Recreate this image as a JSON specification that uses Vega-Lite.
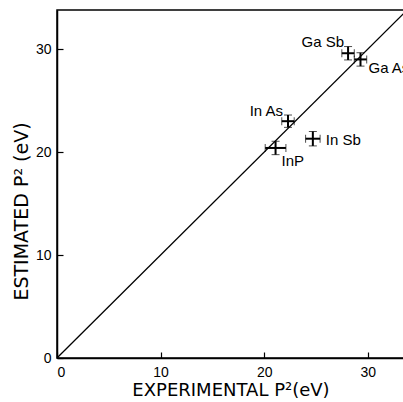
{
  "$schema": "https://vega.github.io/schema/vega-lite/v6.json",
  "autosize": "none",
  "width": 347,
  "height": 348,
  "padding": {"left": 57, "top": 10, "right": 0, "bottom": 44},
  "background": "white",
  "config": {
    "view": {"stroke": "black", "strokeWidth": 1.5},
    "font": "Liberation Sans",
    "axis": {
      "grid": false,
      "domainColor": "black",
      "domainWidth": 1.5,
      "tickColor": "black",
      "tickSize": -6,
      "tickWidth": 1.2,
      "labelFont": "Liberation Sans",
      "labelFontSize": 14,
      "labelColor": "black",
      "titleFont": "DejaVu Sans",
      "titleFontSize": 19,
      "titleFontWeight": "normal",
      "titleColor": "black"
    }
  },
  "datasets": {
    "points": [
      {"name": "GaSb", "label": "Ga Sb", "exp": 28.1, "est": 29.6, "xerr": 0.6, "yerr": 0.65},
      {"name": "GaAs", "label": "Ga As", "exp": 29.3, "est": 29.0, "xerr": 0.6, "yerr": 0.65},
      {"name": "InAs", "label": "In As", "exp": 22.3, "est": 23.0, "xerr": 0.6, "yerr": 0.6},
      {"name": "InSb", "label": "In Sb", "exp": 24.7, "est": 21.3, "xerr": 0.7, "yerr": 0.7},
      {"name": "InP", "label": "InP", "exp": 21.1, "est": 20.4, "xerr": 1.0, "yerr": 0.65}
    ],
    "diag": [
      {"exp": 0, "est": 0},
      {"exp": 33.6, "est": 33.6}
    ]
  },
  "layer": [
    {
      "data": {"name": "diag"},
      "mark": {"type": "line", "color": "black", "strokeWidth": 1.3, "clip": true},
      "encoding": {
        "x": {"field": "exp", "type": "quantitative", "title": "EXPERIMENTAL P²(eV)", "scale": {"domain": [0, 33.5], "nice": false}, "axis": {"values": [0, 10, 20, 30], "titlePadding": 2, "labelPadding": 13, "titleFontSize": 18}},
        "y": {"field": "est", "type": "quantitative", "title": "ESTIMATED    P² (eV)", "scale": {"domain": [0, 33.8], "nice": false}, "axis": {"values": [0, 10, 20, 30], "titlePadding": 4, "labelPadding": 12, "titleY": 201}}
      }
    },
    {
      "data": {"name": "points"},
      "transform": [
        {"calculate": "datum.exp - datum.xerr", "as": "xlo"},
        {"calculate": "datum.exp + datum.xerr", "as": "xhi"}
      ],
      "mark": {"type": "errorbar", "ticks": {"size": 8, "color": "black", "strokeWidth": 1.5}, "rule": {"color": "black", "strokeWidth": 2}},
      "encoding": {
        "x": {"field": "xlo", "type": "quantitative", "title": "EXPERIMENTAL P²(eV)"},
        "x2": {"field": "xhi"},
        "y": {"field": "est", "type": "quantitative", "title": "ESTIMATED    P² (eV)"}
      }
    },
    {
      "data": {"name": "points"},
      "transform": [
        {"calculate": "datum.est - datum.yerr", "as": "ylo"},
        {"calculate": "datum.est + datum.yerr", "as": "yhi"}
      ],
      "mark": {"type": "errorbar", "ticks": {"size": 8, "color": "black", "strokeWidth": 1.5}, "rule": {"color": "black", "strokeWidth": 2}},
      "encoding": {
        "y": {"field": "ylo", "type": "quantitative", "title": "ESTIMATED    P² (eV)"},
        "y2": {"field": "yhi"},
        "x": {"field": "exp", "type": "quantitative", "title": "EXPERIMENTAL P²(eV)"}
      }
    },
    {
      "data": {"name": "points"},
      "transform": [{"filter": "datum.name === 'GaSb'"}],
      "mark": {"type": "text", "align": "right", "baseline": "middle", "dx": -4, "dy": -11, "fontSize": 15, "font": "Liberation Sans", "color": "black"},
      "encoding": {"x": {"field": "exp", "type": "quantitative", "title": "EXPERIMENTAL P²(eV)"}, "y": {"field": "est", "type": "quantitative", "title": "ESTIMATED    P² (eV)"}, "text": {"field": "label"}}
    },
    {
      "data": {"name": "points"},
      "transform": [{"filter": "datum.name === 'GaAs'"}],
      "mark": {"type": "text", "align": "left", "baseline": "middle", "dx": 8, "dy": 9, "fontSize": 15, "font": "Liberation Sans", "color": "black"},
      "encoding": {"x": {"field": "exp", "type": "quantitative", "title": "EXPERIMENTAL P²(eV)"}, "y": {"field": "est", "type": "quantitative", "title": "ESTIMATED    P² (eV)"}, "text": {"field": "label"}}
    },
    {
      "data": {"name": "points"},
      "transform": [{"filter": "datum.name === 'InAs'"}],
      "mark": {"type": "text", "align": "right", "baseline": "middle", "dx": -5, "dy": -10, "fontSize": 15, "font": "Liberation Sans", "color": "black"},
      "encoding": {"x": {"field": "exp", "type": "quantitative", "title": "EXPERIMENTAL P²(eV)"}, "y": {"field": "est", "type": "quantitative", "title": "ESTIMATED    P² (eV)"}, "text": {"field": "label"}}
    },
    {
      "data": {"name": "points"},
      "transform": [{"filter": "datum.name === 'InSb'"}],
      "mark": {"type": "text", "align": "left", "baseline": "middle", "dx": 13, "dy": 1, "fontSize": 15, "font": "Liberation Sans", "color": "black"},
      "encoding": {"x": {"field": "exp", "type": "quantitative", "title": "EXPERIMENTAL P²(eV)"}, "y": {"field": "est", "type": "quantitative", "title": "ESTIMATED    P² (eV)"}, "text": {"field": "label"}}
    },
    {
      "data": {"name": "points"},
      "transform": [{"filter": "datum.name === 'InP'"}],
      "mark": {"type": "text", "align": "left", "baseline": "middle", "dx": 6, "dy": 13, "fontSize": 15, "font": "Liberation Sans", "color": "black"},
      "encoding": {"x": {"field": "exp", "type": "quantitative", "title": "EXPERIMENTAL P²(eV)"}, "y": {"field": "est", "type": "quantitative", "title": "ESTIMATED    P² (eV)"}, "text": {"field": "label"}}
    }
  ]
}
